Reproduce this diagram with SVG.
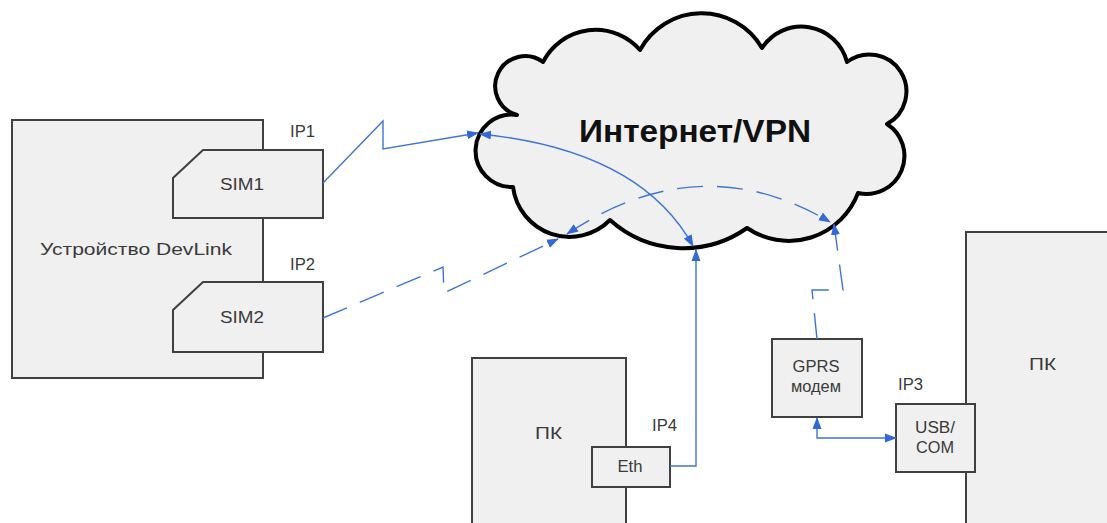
<svg xmlns="http://www.w3.org/2000/svg" width="1107" height="523" viewBox="0 0 1107 523">
<style>
.box{fill:#f0f0f0;stroke:#404040;stroke-width:2}
.cloud{fill:#f0f0f0;stroke:#000;stroke-width:4;stroke-linejoin:round}
.t{font-family:"Liberation Sans",Arial,sans-serif;fill:#3a3a3a;font-size:16px}
.c{fill:none;stroke:#3c74d8;stroke-width:1.4}
.d{stroke-dasharray:26 14}
</style>
<defs>
<marker id="ah" markerUnits="userSpaceOnUse" markerWidth="12" markerHeight="10" refX="11" refY="4.5" orient="auto-start-reverse" viewBox="0 0 12 9">
<path d="M0,0 L12,4.5 L0,9 Z" fill="#3468d6"/>
</marker>
</defs>
<rect width="1107" height="523" fill="#fff"/>
<g id="devlink">
<rect class="box" x="12" y="120" width="251" height="258"/>
<text class="t" x="40" y="255" font-size="18" textLength="192" lengthAdjust="spacingAndGlyphs">Устройство DevLink</text>
</g>
<g id="sim1">
<path class="box" d="M203,150 H323 V218 H173 V178 Z"/>
<text class="t" x="242" y="190" text-anchor="middle" font-size="17" textLength="44" lengthAdjust="spacingAndGlyphs">SIM1</text>
<text class="t" x="290" y="137" textLength="25" lengthAdjust="spacingAndGlyphs">IP1</text>
</g>
<g id="sim2">
<path class="box" d="M203,282 H323 V352 H173 V310 Z"/>
<text class="t" x="242" y="323" text-anchor="middle" font-size="17" textLength="44" lengthAdjust="spacingAndGlyphs">SIM2</text>
<text class="t" x="290" y="270" textLength="25" lengthAdjust="spacingAndGlyphs">IP2</text>
</g>
<g id="pc1">
<rect class="box" x="472" y="358" width="154" height="175"/>
<text class="t" x="535" y="439" font-size="19" textLength="27" lengthAdjust="spacingAndGlyphs">ПК</text>
</g>
<g id="eth">
<rect class="box" x="592" y="447" width="78" height="40"/>
<text class="t" x="630" y="472" text-anchor="middle" textLength="25" lengthAdjust="spacingAndGlyphs">Eth</text>
<text class="t" x="652" y="431" textLength="25" lengthAdjust="spacingAndGlyphs">IP4</text>
</g>
<g id="pc2">
<rect class="box" x="966" y="232" width="160" height="300"/>
<text class="t" x="1029" y="370" font-size="19" textLength="27" lengthAdjust="spacingAndGlyphs">ПК</text>
</g>
<g id="usbcom">
<rect class="box" x="896" y="404" width="79" height="68"/>
<text class="t" x="935" y="433" text-anchor="middle" textLength="40" lengthAdjust="spacingAndGlyphs">USB/</text>
<text class="t" x="935" y="453" text-anchor="middle" textLength="38" lengthAdjust="spacingAndGlyphs">COM</text>
<text class="t" x="898" y="390" textLength="25" lengthAdjust="spacingAndGlyphs">IP3</text>
</g>
<g id="gprs">
<rect class="box" x="772" y="339" width="90" height="78"/>
<text class="t" x="816" y="372" text-anchor="middle" textLength="47" lengthAdjust="spacingAndGlyphs">GPRS</text>
<text class="t" x="816" y="392" text-anchor="middle" font-size="15" textLength="50" lengthAdjust="spacingAndGlyphs">модем</text>
</g>
<g id="internet">
<path class="cloud" d="M543,62 A59,59 0 0 1 640,50 A70,70 0 0 1 762,48 A47,47 0 0 1 847,62 A37,37 0 1 1 887,124 A38,38 0 0 1 858,193 A74,74 0 0 1 747,228 A110,110 0 0 1 610,220 A57,57 0 0 1 513,187 A36.2,36.2 0 1 1 517,115 A30,30 0 1 1 543,62 Z"/>
<text x="695" y="142" text-anchor="middle" font-family="Liberation Sans,Arial,sans-serif" font-weight="bold" font-size="32" fill="#111" textLength="232" lengthAdjust="spacingAndGlyphs">Интернет/VPN</text>
</g>
<g id="connectors">
<path class="c" d="M323,183 L383,121 L383,149 L478,133" marker-end="url(#ah)"/>
<path class="c d" d="M323,318 L443,267 L444,293 L558,239" marker-end="url(#ah)"/>
<path class="c" d="M480,134 Q640,150 693,246" marker-start="url(#ah)" marker-end="url(#ah)"/>
<path class="c d" d="M567,234 Q700,145 830,222" marker-start="url(#ah)" marker-end="url(#ah)"/>
<path class="c" d="M670,466 H696 V250" stroke="#6f9be6" stroke-width="2.2" marker-end="url(#ah)"/>
<path class="c d" d="M817,339 L812,290 L843,290 L834,224" marker-end="url(#ah)"/>
<path class="c" d="M817,418 V438 H896" stroke-width="2" marker-start="url(#ah)" marker-end="url(#ah)"/>
</g>
</svg>
